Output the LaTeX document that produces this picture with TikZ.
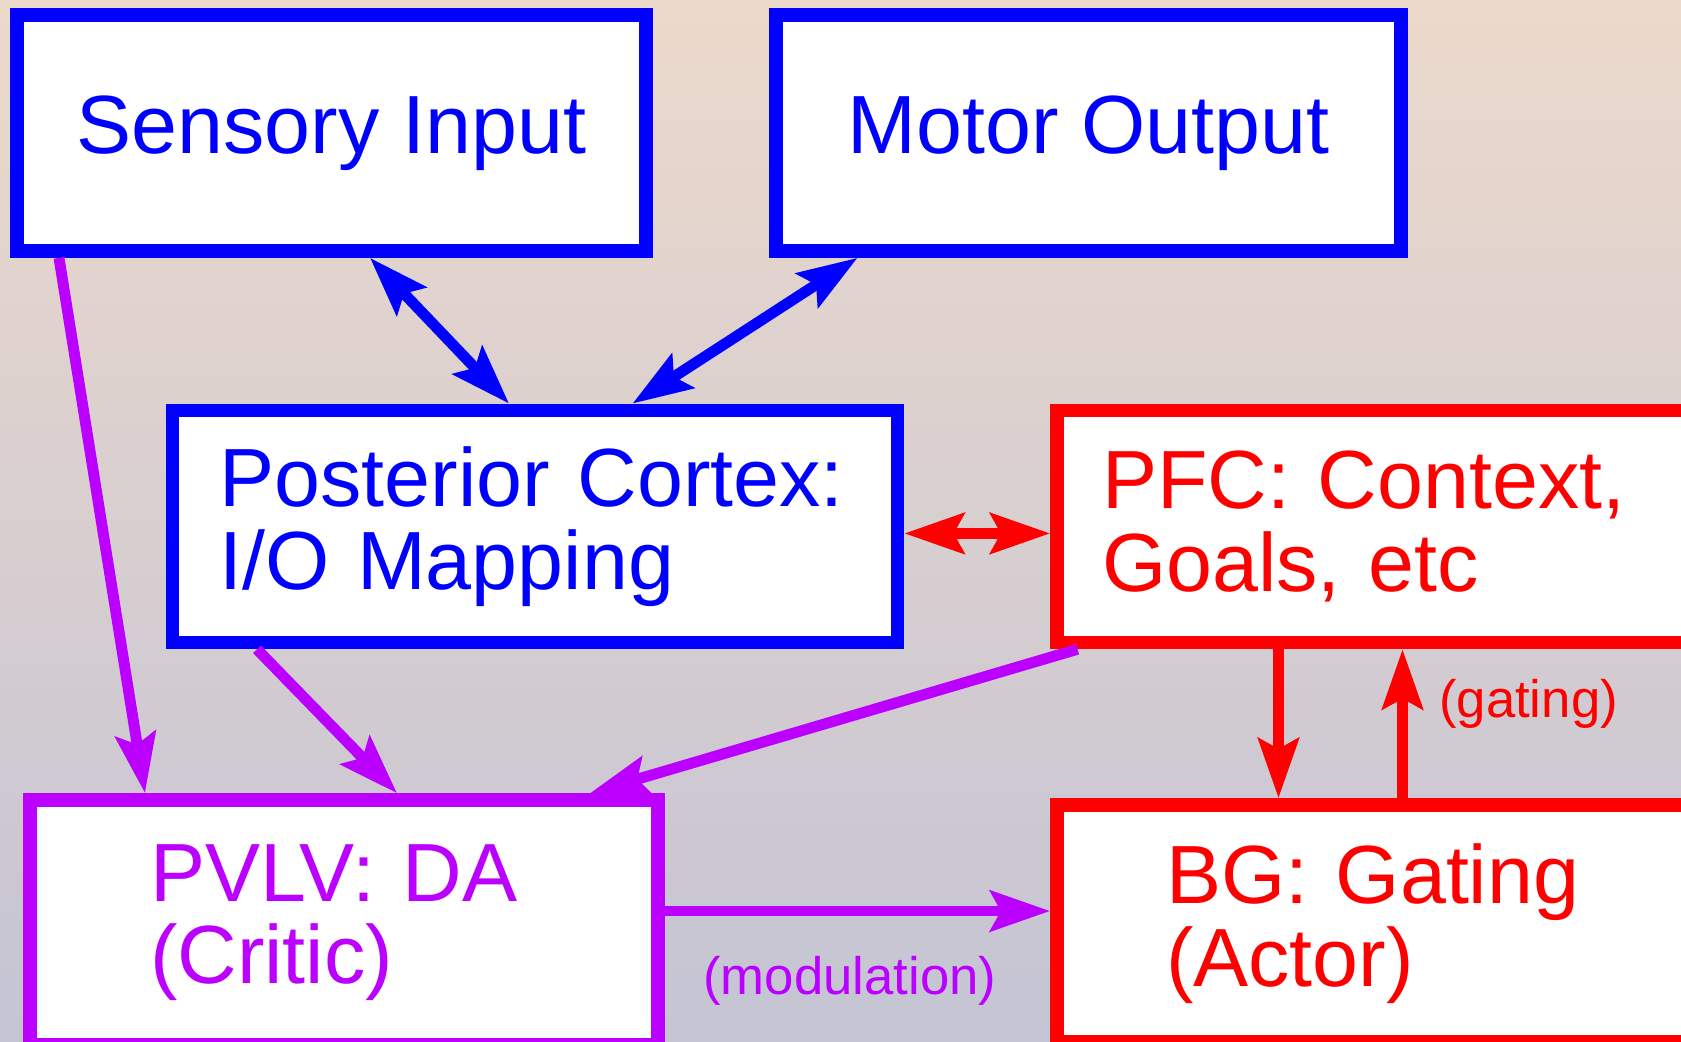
\documentclass[tikz,border=0pt]{standalone}
\usepackage{fontspec}
\setmainfont{Liberation Sans}
\usetikzlibrary{arrows.meta}

\definecolor{critic}{RGB}{187,0,255}
\definecolor{bgtop}{RGB}{236,217,203}
\definecolor{bgmid}{RGB}{214,192,206}
\definecolor{bgbot}{RGB}{196,196,212}

\begin{document}
\begin{tikzpicture}[x=1cm, y=-1cm,
    >={Stealth[length=17pt,width=11.5pt,inset=3pt]},
    area/.style={draw=#1, text=#1, fill=white, line width=3.9pt, font=\fontsize{23.5}{23.5}\selectfont},
    link/.style={draw=#1, line width=3.1pt},
    tag/.style={text=#1, font=\fontsize{15}{18}\selectfont}]

    \useasboundingbox (0,0) rectangle (16.81,10.41);
    \clip (0,0) rectangle (16.81,10.41);
    \shade[top color=bgtop, middle color=bgmid, bottom color=bgbot] (0,0) rectangle (16.81,10.41);

    % Boxes
    \node[area=blue, minimum width=6.29cm, minimum height=2.36cm] (sens) at (3.315,1.33) {Sensory Input};
    \node[area=blue, minimum width=6.25cm, minimum height=2.36cm] (motor) at (10.885,1.33) {Motor Output};
    \node[area=blue, minimum height=2.32cm, text width=6.31cm, inner xsep=0.47cm, align=left] (post) at (5.35,5.264) {Posterior Cortex:\\I/O Mapping};
    \node[area=red, minimum height=2.32cm, text width=5.53cm, inner xsep=0.45cm, align=left] (pfc) at (13.785,5.264) {PFC: Context,\\Goals, etc};
    \node[area=critic, minimum height=2.45cm, text width=3.88cm, inner xsep=1.2cm, align=left] (pvlv) at (3.44,9.225) {PVLV: DA\\(Critic)};
    \node[area=red, minimum height=2.37cm, text width=4.25cm, inner xsep=1.09cm, align=left] (bg) at (13.785,9.235) {BG: Gating\\(Actor)};

    % Cortical loop
    \draw[link=blue, <->] ([xshift=0.385cm]sens.south) -- ([xshift=-0.26cm]post.north);
    \draw[link=blue, <->] ([xshift=-2.31cm]motor.south) -- ([xshift=0.975cm]post.north);
    \draw[link=red, <->] ([yshift=-0.07cm]post.east) -- ([yshift=-0.07cm]post.east -| pfc.west);

    % Inputs to the critic
    \draw[link=critic, ->] ([xshift=-2.725cm]sens.south) -- ([xshift=-1.99cm]pvlv.north);
    \draw[link=critic, ->] ([xshift=-2.78cm]post.south) -- ([xshift=0.53cm]pvlv.north);
    \draw[link=critic, ->] ([xshift=-3.01cm]pfc.south) -- ([xshift=2.46cm]pvlv.north);
    \draw[link=critic, ->] ([yshift=0.115cm]pvlv.east) -- ([yshift=0.115cm]pvlv.east -| bg.west)
        node[tag=critic, pos=0.48, yshift=-0.7cm] (modlbl) {(modulation)};

    % PFC / BG loop
    \draw[link=red, ->] ([xshift=-1cm]pfc.south) -- ([xshift=-1cm]pfc.south |- bg.north);
    \draw[link=red, ->] ([xshift=0.24cm]bg.north) -- ([xshift=0.24cm]bg.north |- pfc.south)
        node[tag=red, pos=0.6, xshift=1.26cm, yshift=0.05cm] (gatelbl) {(gating)};
\end{tikzpicture}
\end{document}
